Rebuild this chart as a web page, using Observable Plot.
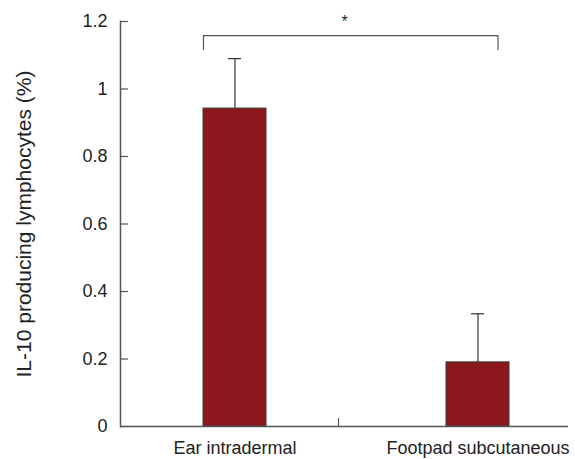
<!DOCTYPE html>
<html>
<head>
<meta charset="utf-8">
<script src="https://cdn.jsdelivr.net/npm/d3@7"></script>
<script src="https://cdn.jsdelivr.net/npm/@observablehq/plot@0.6"></script>
<style>
  html, body { margin: 0; padding: 0; background: #fff; }
</style>
</head>
<body>
<div id="chart"></div>
<script>
const categories = ["Ear intradermal", "Footpad subcutaneous"];
const means = [0.942, 0.19];
const errors = [0.148, 0.144];
const yTicks = [0, 0.2, 0.4, 0.6, 0.8, 1, 1.2];
const yLabel = "IL-10 producing lymphocytes (%)";
const sigLabel = "*";
const bracketTop = 1.158;
const bracketLeg = 1.114;
const starY = 1.185;

const data = categories.map((c, i) => ({group: c, mean: means[i], err: errors[i]}));

const font = "'Liberation Sans', Arial, sans-serif";
const axisColor = "#555";
const chart = Plot.plot({
  width: 575,
  height: 459,
  marginLeft: 120,
  marginRight: 7,
  marginTop: 21,
  marginBottom: 33,
  style: {fontFamily: font, fontSize: "18px", color: "#222", background: "#fff"},
  x: {domain: categories, range: [203, 509.6], paddingInner: 0.741, paddingOuter: 0, align: 0.5},
  y: {domain: [0, 1.2]},
  marks: [
    Plot.barY(data, {x: "group", y: "mean", fill: "#8b181d", stroke: "#3a3a3a", strokeWidth: 1}),
    Plot.ruleX(data, {x: "group", y1: "mean", y2: d => d.mean + d.err, stroke: "#333", strokeWidth: 1.2}),
    Plot.tickY(data, {x: "group", y: d => d.mean + d.err, stroke: "#333", strokeWidth: 1.2, insetLeft: 25, insetRight: 25}),
    Plot.ruleY([bracketTop], {x1: () => categories[0], x2: () => categories[1], insetRight: 11, stroke: axisColor, strokeWidth: 1.2}),
    Plot.ruleX([categories[0]], {x: d => d, y1: bracketLeg, y2: bracketTop, dx: -31.5, stroke: axisColor, strokeWidth: 1.2}),
    Plot.ruleX([categories[1]], {x: d => d, y1: bracketLeg, y2: bracketTop, dx: 20, stroke: axisColor, strokeWidth: 1.2}),
    Plot.text([sigLabel], {text: d => d, y: starY, frameAnchor: "top", lineAnchor: "bottom", fontSize: 16, fill: "#222"}),
    Plot.ruleY([0], {stroke: axisColor, strokeWidth: 1.5}),
    Plot.axisY({ticks: yTicks, tickSize: 0, tickPadding: 13, tickFormat: d => `${d}`, fontSize: 18, label: null}),
    Plot.axisY({ticks: yTicks, tickSize: 8, dx: 8, text: null, label: null, stroke: axisColor, strokeWidth: 1.2}),
    Plot.text([yLabel], {text: d => d, frameAnchor: "left", textAnchor: "middle", lineAnchor: "middle", rotate: -90, dx: -96, fontSize: 21, fill: "#222"}),
    Plot.axisX({tickSize: 0, tickPadding: 15, fontSize: 18, label: null}),
    Plot.axisX({ticks: [categories[0]], tickSize: 8, dy: -8, dx: 103.5, text: null, label: null, stroke: axisColor, strokeWidth: 1.2}),
    Plot.frame({anchor: "left", stroke: axisColor, strokeWidth: 1.5})
  ]
});
document.getElementById("chart").appendChild(chart);
</script>
</body>
</html>
